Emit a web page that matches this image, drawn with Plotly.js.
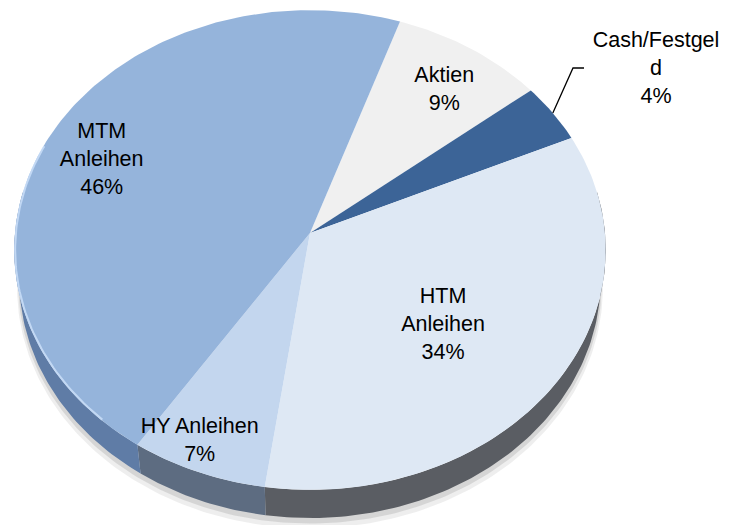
<!DOCTYPE html>
<html>
<head>
<meta charset="utf-8">
<script src="https://cdn.plot.ly/plotly-3.0.1.min.js"></script>
<style>html,body{margin:0;padding:0;background:#fff;}#chart{width:731px;height:525px;}</style>
</head>
<body>
<div id="chart"></div>
<script>
// ---- data ----
var categories = ['Aktien', 'Cash/Festgeld', 'HTM Anleihen', 'HY Anleihen', 'MTM Anleihen'];
var displayLabels = ['Aktien', 'Cash/Festgel<br>d', 'HTM<br>Anleihen', 'HY Anleihen', 'MTM<br>Anleihen'];
var shares = [9, 4, 34, 7, 46];

// ---- styles ----
var topColors = ['#f0f0f0', '#3c6497', '#dee8f4', '#c3d6ee', '#95b4db'];
var sideColors = ['#8c8c8c', '#2b4568', '#5a5d63', '#5d6c81', '#5f7ca6'];

(function () {
  var W = 731, H = 525;
  var VX = 310, VY = 233, S = 295;        // pixel position of pie centre, pixels per unit
  var ELEV = 54 * Math.PI / 180, DIST = 8.3, THICK = 0.18; // 3D view of the pie
  var sE = Math.sin(ELEV), cE = Math.cos(ELEV);
  var startAngle = 19;                     // degrees clockwise from 12 o'clock
  var FONT = {family: 'Liberation Sans, Arial, sans-serif', size: 21.5, color: '#000'};
  // label placement on the disk: radius fraction, angle nudge (deg); null = outside label
  var labelPlace = [[0.784, 2.1], null, [0.58, 3.8], [0.894, 2.4], [0.785, -3]];

  function rad(d) { return d * Math.PI / 180; }
  // project a point of the (tilted) disk: X right, Z away, t = depth below top face
  function proj(X, Z, t) {
    var den = DIST + Z * cE + t * sE;
    return [X * DIST / den, (Z * sE - t * cE) * DIST / den];
  }
  function arc(a0, a1, r, t) {
    var n = Math.max(2, Math.ceil(Math.abs(a1 - a0))), xs = [], ys = [];
    for (var k = 0; k <= n; k++) {
      var a = rad(a0 + (a1 - a0) * k / n);
      var p = proj(r * Math.sin(a), r * Math.cos(a), t);
      xs.push(p[0]); ys.push(p[1]);
    }
    return [xs, ys];
  }

  var total = shares.reduce(function (a, b) { return a + b; }, 0);
  var bounds = [], acc = 0;
  shares.forEach(function (v) {
    var a0 = startAngle + acc / total * 360;
    acc += v;
    bounds.push([a0, startAngle + acc / total * 360]);
  });

  var traces = [];
  // soft shadow under the pie
  [[1.012, THICK + 0.045, 'rgba(90,90,90,0.10)'], [1.006, THICK + 0.025, 'rgba(90,90,90,0.16)']].forEach(function (sh) {
    var t = arc(80, 280, 1, 0), btm = arc(280, 80, sh[0], sh[1]);
    traces.push({type: 'scatter', mode: 'lines', x: t[0].concat(btm[0]), y: t[1].concat(btm[1]),
      fill: 'toself', fillcolor: sh[2], line: {width: 0}, hoverinfo: 'skip', showlegend: false});
  });
  // side walls (front half)
  bounds.forEach(function (b, i) {
    [[b[0], b[1]], [b[0] - 360, b[1] - 360]].forEach(function (s) {
      var a0 = Math.max(s[0], 80), a1 = Math.min(s[1], 280);
      if (a1 <= a0) return;
      var t = arc(a0, a1, 1, 0), btm = arc(a1, a0, 1, THICK);
      traces.push({type: 'scatter', mode: 'lines', x: t[0].concat(btm[0]), y: t[1].concat(btm[1]),
        fill: 'toself', fillcolor: sideColors[i], line: {width: 0}, hoverinfo: 'skip', showlegend: false});
    });
  });
  // top face slices
  bounds.forEach(function (b, i) {
    var t = arc(b[0], b[1], 1, 0);
    traces.push({type: 'scatter', mode: 'lines', x: [0].concat(t[0], [0]), y: [0].concat(t[1], [0]),
      fill: 'toself', fillcolor: topColors[i], line: {width: 0}, name: categories[i],
      hoverinfo: 'name', showlegend: false});
  });
  // light rim highlight on the lower-left edge
  var hl = arc(222, 292, 0.997, 0);
  traces.push({type: 'scatter', mode: 'lines', x: hl[0], y: hl[1],
    line: {color: 'rgba(205,225,250,0.8)', width: 2}, hoverinfo: 'skip', showlegend: false});
  // labels
  var lx = [], ly = [], lt = [];
  bounds.forEach(function (b, i) {
    var txt = displayLabels[i] + '<br>' + shares[i] + '%';
    var mid = (b[0] + b[1]) / 2, p = labelPlace[i];
    if (p) {
      var m = rad(mid + p[1]);
      var q = proj(p[0] * Math.sin(m), p[0] * Math.cos(m), 0);
      lx.push(q[0]); ly.push(q[1]); lt.push(txt);
    } else {
      var e = proj(Math.sin(rad(mid)), Math.cos(rad(mid)), 0);
      var elbowX = (573 - VX) / S, elbowY = (VY - 68) / S, endX = (584 - VX) / S;
      traces.push({type: 'scatter', mode: 'lines', x: [e[0], elbowX, endX], y: [e[1], elbowY, elbowY],
        line: {color: '#000', width: 1.3}, hoverinfo: 'skip', showlegend: false});
      lx.push((656 - VX) / S); ly.push((VY - 70) / S); lt.push(txt);
    }
  });
  traces.push({type: 'scatter', mode: 'text', x: lx, y: ly, text: lt, textposition: 'middle center',
    textfont: FONT, hoverinfo: 'skip', showlegend: false});

  var layout = {
    width: W, height: H, margin: {l: 0, r: 0, t: 0, b: 0},
    paper_bgcolor: '#fff', plot_bgcolor: '#fff', showlegend: false, hovermode: false,
    xaxis: {range: [-VX / S, (W - VX) / S], visible: false, fixedrange: true},
    yaxis: {range: [-(H - VY) / S, VY / S], visible: false, fixedrange: true}
  };
  Plotly.newPlot('chart', traces, layout, {displayModeBar: false, staticPlot: true});
})();
</script>
</body>
</html>
